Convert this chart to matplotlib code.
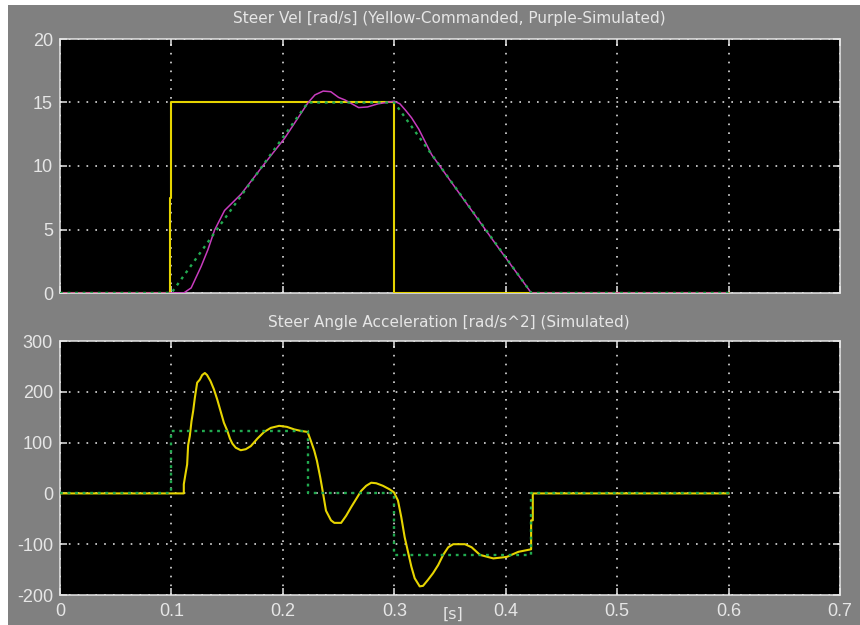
import matplotlib
matplotlib.use("Agg")
import matplotlib.pyplot as plt
from matplotlib.patches import Rectangle

# ---- data -------------------------------------------------------------
# commanded steering velocity [rad/s]
t_cmd = [0.0, 0.0985, 0.0985, 0.1, 0.1, 0.3, 0.3, 0.6]
v_cmd = [0.0, 0.0, 7.5, 7.5, 15.0, 15.0, 0.0, 0.0]

# reference (trapezoidal) velocity profile [rad/s]
t_ref = [0.0, 0.1, 0.2225, 0.3, 0.423, 0.6]
v_ref = [0.0, 0.0, 15.0, 15.0, 0.0, 0.0]

# simulated steering velocity [rad/s]
t_sim = [0.0, 0.111, 0.1177, 0.1267, 0.1327, 0.1387, 0.1477, 0.1627,
         0.1837, 0.2017, 0.2227, 0.2288, 0.2362, 0.243, 0.25, 0.2557,
         0.268, 0.276, 0.2856, 0.3, 0.305, 0.31, 0.3155, 0.322, 0.3335,
         0.36, 0.39, 0.423, 0.6]
v_sim = [0.0, 0.0, 0.4, 2.1, 3.4, 4.95, 6.5, 7.8,
         10.2, 12.2, 15.0, 15.6, 15.9, 15.85, 15.4, 15.2,
         14.6, 14.65, 14.9, 15.1, 14.9, 14.4, 13.8, 12.9, 10.9,
         7.65, 3.98, 0.0, 0.0]

# simulated steering angle acceleration [rad/s^2]
t_acc = [0.0, 0.1111, 0.1111, 0.1126, 0.1141, 0.115, 0.1165, 0.118,
         0.1195, 0.121, 0.1231, 0.1255, 0.1276, 0.130, 0.132, 0.1351,
         0.1381, 0.1411, 0.1441, 0.1471, 0.1502, 0.1525, 0.1547, 0.1577,
         0.1622, 0.1667, 0.1712, 0.1772, 0.1832, 0.1892, 0.1967, 0.2036,
         0.2102, 0.2162, 0.2222, 0.2252, 0.2282, 0.2306, 0.2336, 0.2357,
         0.2387, 0.2432, 0.2462, 0.2523, 0.2568, 0.2613, 0.2658, 0.2703,
         0.2748, 0.2793, 0.2838, 0.2898, 0.2958, 0.2997, 0.3033, 0.3063,
         0.3093, 0.3123, 0.3153, 0.3183, 0.3228, 0.3258, 0.3303, 0.3348,
         0.3394, 0.3439, 0.3484, 0.3529, 0.3634, 0.3694, 0.3769, 0.3889,
         0.4009, 0.4114, 0.4228, 0.4228, 0.4243, 0.4243, 0.6]
a_acc = [0.0, 0.0, 18.0, 38.0, 57.0, 95.0, 113.0, 142.0,
         162.0, 188.0, 218.0, 224.0, 233.0, 237.0, 233.0, 221.0,
         205.0, 185.0, 162.0, 139.0, 123.0, 108.0, 98.0, 90.0,
         85.0, 87.0, 93.0, 108.0, 121.0, 129.0, 133.0, 131.0,
         126.0, 123.0, 121.0, 103.0, 84.0, 64.0, 31.0, 5.0,
         -34.0, -53.0, -58.0, -58.0, -44.0, -27.0, -11.0, 5.0,
         15.0, 21.0, 20.0, 15.0, 8.0, 2.0, -14.0, -47.0,
         -86.0, -115.0, -144.0, -167.0, -183.0, -182.0, -170.0, -157.0,
         -141.0, -121.0, -106.0, -100.0, -100.0, -106.0, -121.0, -128.0,
         -125.0, -115.0, -110.0, -53.0, -53.0, 0.0, 0.0]

# reference acceleration profile [rad/s^2]
t_aref = [0.0, 0.1, 0.1, 0.2225, 0.2225, 0.3, 0.3, 0.423, 0.423, 0.6]
a_aref = [0.0, 0.0, 122.0, 122.0, 0.0, 0.0, -122.0, -122.0, 0.0, 0.0]

x_ticks = [0, 0.1, 0.2, 0.3, 0.4, 0.5, 0.6, 0.7]
x_tick_labels = ["0", "0.1", "0.2", "0.3", "0.4", "0.5", "0.6", "0.7"]
vel_ticks = [0, 5, 10, 15, 20]
acc_ticks = [-200, -100, 0, 100, 200, 300]

title_vel = "Steer Vel [rad/s] (Yellow-Commanded, Purple-Simulated)"
title_acc = "Steer Angle Acceleration [rad/s^2] (Simulated)"
x_unit = "[s]"

# ---- style ------------------------------------------------------------
plt.rcParams["font.family"] = ["DejaVu Sans"]
TICK_FONT = ["Liberation Sans", "DejaVu Sans"]

W, H = 860, 625
BG = "#808080"
FG = "#e6e6e6"
YELLOW = "#e6d400"
MAGENTA = "#c83cbe"
GREEN = "#22aa50"
GRID = "#dcdcdc"

fig = plt.figure(figsize=(W / 100, H / 100), dpi=100, facecolor="white")
fig.patches.append(Rectangle((8 / W, 0), 1 - 8 / W, 1 - 5 / H,
                             transform=fig.transFigure, facecolor=BG,
                             edgecolor="none", zorder=-10))


def px_axes(left, top, right, bottom):
    return fig.add_axes([left / W, 1 - bottom / H,
                         (right - left) / W, (bottom - top) / H])


def style_axes(ax, yticks, show_xlabels):
    ax.set_facecolor("black")
    ax.set_xlim(0, 0.7)
    ax.set_xticks(x_ticks)
    ax.set_yticks(yticks)
    ax.set_ylim(yticks[0], yticks[-1])
    ax.set_yticklabels([str(v) for v in yticks])
    if show_xlabels:
        ax.set_xticklabels(x_tick_labels)
    else:
        ax.set_xticklabels([])
    for lbl in ax.get_xticklabels() + ax.get_yticklabels():
        lbl.set_family(TICK_FONT)
    for s in ax.spines.values():
        s.set_color(FG)
        s.set_linewidth(1.1)
    ax.tick_params(direction="in", length=5, width=1.1, color=FG,
                   labelcolor=FG, labelsize=13, top=True, right=True)
    ax.tick_params(axis="y", pad=5)
    ax.tick_params(axis="x", pad=6)
    ax.grid(True, color=GRID, linestyle=(0, (1, 4.3)), linewidth=1.2)
    ax.set_axisbelow(True)


# ---- steering velocity ------------------------------------------------
ax1 = px_axes(60, 39, 840, 293)
style_axes(ax1, vel_ticks, False)
ax1.plot(t_cmd, v_cmd, color=YELLOW, lw=1.5, zorder=3)
ax1.plot(t_sim, v_sim, color=MAGENTA, lw=1.1, zorder=4)
ax1.plot(t_ref, v_ref, color=GREEN, lw=1.7, linestyle=(0, (1.2, 2.0)), zorder=5)

# ---- steering angle acceleration --------------------------------------
ax2 = px_axes(60, 341, 840, 595)
style_axes(ax2, acc_ticks, True)
ax2.plot(t_acc, a_acc, color=YELLOW, lw=1.5, zorder=3)
ax2.plot(t_aref, a_aref, color=GREEN, lw=1.7, linestyle=(0, (1.2, 2.0)), zorder=5)

fig.text(449 / W, 1 - 19 / H, title_vel, color=FG, fontsize=11,
         ha="center", va="center")
fig.text(449 / W, 1 - 322 / H, title_acc, color=FG, fontsize=11,
         ha="center", va="center")
fig.text(453 / W, 1 - 614 / H, x_unit, color=FG, fontsize=11.5,
         ha="center", va="center")

fig.savefig("out.png", dpi=100, facecolor=fig.get_facecolor())
